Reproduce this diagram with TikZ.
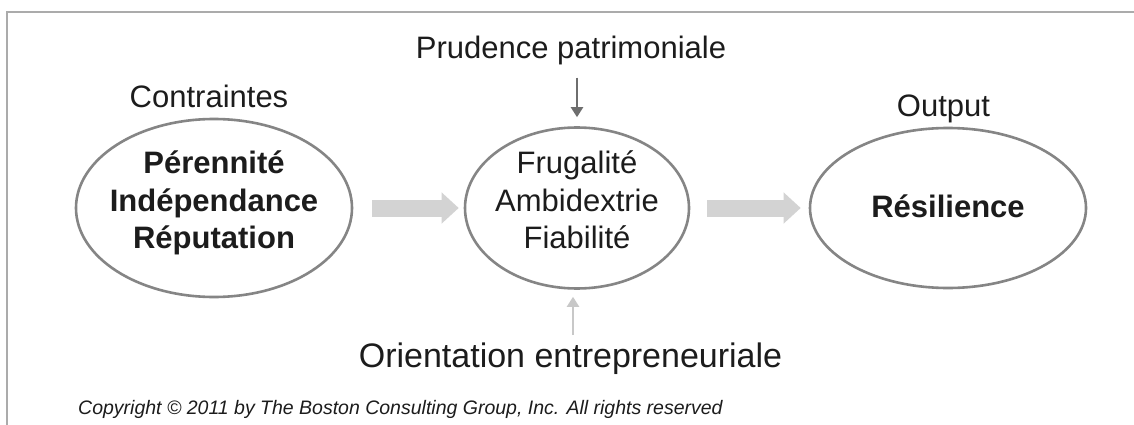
\documentclass[tikz,border=0pt]{standalone}
\usepackage{fontspec}
\setmainfont{Liberation Sans}
\usetikzlibrary{shapes.geometric,arrows.meta}
\definecolor{txt}{HTML}{1C1C1C}
\definecolor{ovalc}{HTML}{858585}
\definecolor{bigar}{HTML}{D3D3D3}
\definecolor{darkar}{HTML}{6E6E6E}
\definecolor{lightar}{HTML}{C8C8C8}
\definecolor{framec}{HTML}{ABABAB}
\tikzset{
  oval/.style={ellipse, draw=ovalc, line width=2.6pt, inner sep=0pt},
  lbl/.style={text=txt, inner sep=0pt, font=\fontsize{31}{37.5}\selectfont},
  inner/.style={text=txt, inner sep=0pt, align=center, font=\fontsize{31}{37.5}\selectfont},
  bold/.style={inner, font=\fontsize{31}{37.5}\selectfont\bfseries},
  bigarrow/.style={draw=bigar, line width=17pt, -{Triangle[length=17pt, width=30pt]}},
  thinarrow/.style={line width=2.2pt, -{Triangle[length=10pt, width=12pt]}},
}
\begin{document}
\begin{tikzpicture}[x=1pt, y=-1pt]
\useasboundingbox (0,0) rectangle (1134,425);
\fill[white] (0,0) rectangle (1134,425);
% frame
\draw[framec, line width=1.3pt] (7,425) -- (7,12) -- (1134,12);
% ellipses
\node[oval, minimum width=276pt, minimum height=178pt] (e1) at (214,208) {};
\node[oval, minimum width=224pt, minimum height=161pt] (e2) at (577,208) {};
\node[oval, minimum width=276pt, minimum height=160pt] (e3) at (948,208) {};
% texts inside
\node[bold] (t1) at (214,203) {Pérennité\\Indépendance\\Réputation};
\node[inner] (t2) at (577,200) {Frugalité\\Ambidextrie\\Fiabilité};
\node[bold, anchor=base] (t3) at (948,217) {Résilience};
% labels
\node[lbl, anchor=base] (contr) at (209,108) {Contraintes};
\node[lbl, anchor=base] (outp) at (943.5,117) {Output};
\node[lbl, anchor=base] (prud) at (571,59) {Prudence patrimoniale};
\node[lbl, anchor=base, font=\fontsize{34}{40}\selectfont] (orient) at (570.5,367) {Orientation entrepreneuriale};
\node[text=txt, inner sep=0pt, anchor=base west, font=\fontsize{19.5}{22}\selectfont\itshape] (copy) at (78,414) {Copyright © 2011 by The Boston Consulting Group, Inc. All rights reserved};
% big arrows
\draw[bigarrow, shorten <=19pt, shorten >=5pt] (e1) -- (e2);
\draw[bigarrow, shorten <=17pt, shorten >=8pt] (e2) -- (e3);
% thin arrows
\draw[thinarrow, darkar, shorten <=12pt, shorten >=9pt] (prud.south -| e2.north) -- (e2.north);
\draw[thinarrow, lightar, shorten <=7pt, shorten >=7pt] ([xshift=-4pt]e2.south |- orient.north) -- ([xshift=-4pt]e2.south);
\end{tikzpicture}
\end{document}
